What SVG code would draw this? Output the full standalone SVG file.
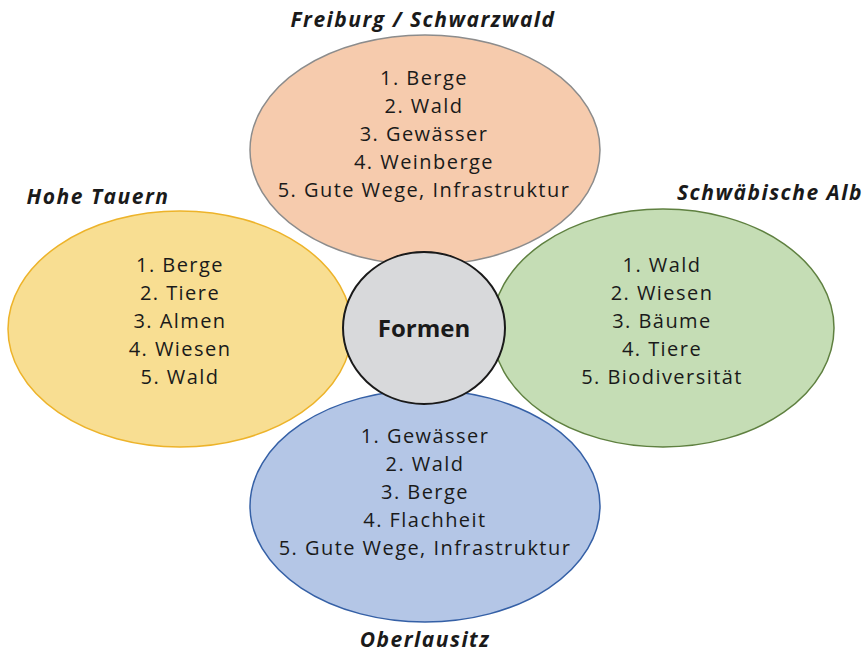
<svg xmlns="http://www.w3.org/2000/svg" width="863" height="652" viewBox="0 0 863 652">
<style>
.t{font-family:"Open Sans","Noto Sans","DejaVu Sans",sans-serif;font-size:20px;letter-spacing:1.45px;fill:#1a1a1a;text-anchor:middle}
.h{font-family:"Open Sans","Noto Sans","DejaVu Sans",sans-serif;font-size:21px;letter-spacing:1.5px;font-weight:bold;font-style:italic;fill:#1a1a1a;text-anchor:middle}
.e{stroke-width:1.5}
</style>
<rect width="863" height="652" fill="#ffffff"/>
<g id="top">
<ellipse class="e" cx="425" cy="150" rx="175" ry="115" fill="#F6CBAD" stroke="#8C8C8C"/>
<text class="t" x="424" y="85">1. Berge</text>
<text class="t" x="424" y="113">2. Wald</text>
<text class="t" x="424" y="141">3. Gewässer</text>
<text class="t" x="424" y="169">4. Weinberge</text>
<text class="t" x="424" y="197">5. Gute Wege, Infrastruktur</text>
<text class="h" x="423" y="27">Freiburg / Schwarzwald</text>
</g>
<g id="left">
<ellipse class="e" cx="180" cy="329" rx="172" ry="118" fill="#F8DE92" stroke="#EDB32A"/>
<text class="t" x="180" y="272">1. Berge</text>
<text class="t" x="180" y="300">2. Tiere</text>
<text class="t" x="180" y="328">3. Almen</text>
<text class="t" x="180" y="356">4. Wiesen</text>
<text class="t" x="180" y="384">5. Wald</text>
<text class="h" x="98" y="204">Hohe Tauern</text>
</g>
<g id="right">
<ellipse class="e" cx="663" cy="328" rx="171" ry="119" fill="#C5DDB5" stroke="#5F8040"/>
<text class="t" x="662" y="272">1. Wald</text>
<text class="t" x="662" y="300">2. Wiesen</text>
<text class="t" x="662" y="328">3. Bäume</text>
<text class="t" x="662" y="356">4. Tiere</text>
<text class="t" x="662" y="384">5. Biodiversität</text>
<text class="h" x="770" y="200">Schwäbische Alb</text>
</g>
<g id="bottom">
<ellipse class="e" cx="425" cy="506" rx="175" ry="116" fill="#B4C6E6" stroke="#3560A6"/>
<text class="t" x="425" y="443">1. Gewässer</text>
<text class="t" x="425" y="471">2. Wald</text>
<text class="t" x="425" y="499">3. Berge</text>
<text class="t" x="425" y="527">4. Flachheit</text>
<text class="t" x="425" y="555">5. Gute Wege, Infrastruktur</text>
<text class="h" x="425" y="647">Oberlausitz</text>
</g>
<g id="center">
<ellipse cx="424" cy="328" rx="81" ry="76" fill="#D8D9DB" stroke="#1a1a1a" stroke-width="2"/>
<text x="424" y="337" style="font-family:'Open Sans','Noto Sans','DejaVu Sans',sans-serif;font-size:24px;font-weight:bold;fill:#1a1a1a;text-anchor:middle">Formen</text>
</g>
<g id="connectors"></g>
</svg>
